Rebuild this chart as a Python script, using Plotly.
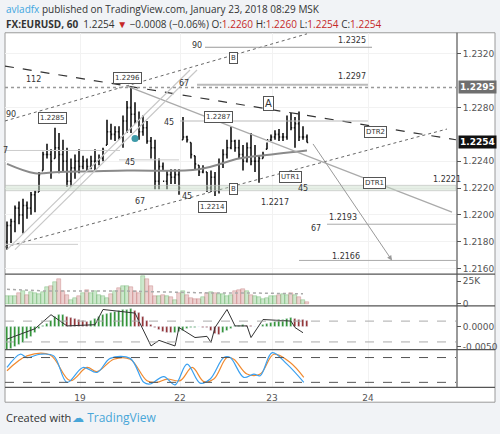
import plotly.graph_objects as go

# hourly EURUSD bars, index 0 = Jan 18 ~06:00
highs = [1.2195, 1.2197, 1.2207, 1.2210, 1.2212, 1.2210, 1.2217, 1.2218, 1.2232, 1.2247,
         1.2253, 1.2249, 1.2265, 1.2261, 1.2256, 1.2250, 1.2242, 1.2245, 1.2249, 1.2244,
         1.2242, 1.2244, 1.2249, 1.2245, 1.2250, 1.2271, 1.2268, 1.2266, 1.2266, 1.2274,
         1.2285, 1.2296, 1.2284, 1.2277, 1.2274, 1.2270, 1.2258, 1.2256, 1.2242, 1.2239,
         1.2233, 1.2234, 1.2234, 1.2234, 1.2273, 1.2259, 1.2254, 1.2244, 1.2237, 1.2237,
         1.2232, 1.2233, 1.2232, 1.2242, 1.2249, 1.2256, 1.2266, 1.2256, 1.2256, 1.2252,
         1.2254, 1.2261, 1.2252, 1.2244, 1.2247, 1.2254, 1.2260, 1.2263, 1.2264, 1.2261,
         1.2274, 1.2276, 1.2273, 1.2277, 1.2266, 1.2260]
lows = [1.2174, 1.2179, 1.2187, 1.2193, 1.2186, 1.2197, 1.2200, 1.2202, 1.2217, 1.2233,
        1.2242, 1.2227, 1.2242, 1.2231, 1.2232, 1.2221, 1.2221, 1.2227, 1.2231, 1.2234,
        1.2232, 1.2234, 1.2232, 1.2237, 1.2240, 1.2252, 1.2256, 1.2255, 1.2256, 1.2250,
        1.2261, 1.2261, 1.2268, 1.2256, 1.2259, 1.2253, 1.2242, 1.2219, 1.2219, 1.2233,
        1.2219, 1.2223, 1.2223, 1.2215, 1.2256, 1.2254, 1.2242, 1.2234, 1.2229, 1.2231,
        1.2217, 1.2217, 1.2214, 1.2216, 1.2235, 1.2242, 1.2249, 1.2247, 1.2242, 1.2233,
        1.2239, 1.2237, 1.2232, 1.2224, 1.2242, 1.2249, 1.2255, 1.2256, 1.2255, 1.2255,
        1.2256, 1.2263, 1.2250, 1.2255, 1.2256, 1.2254]
closes = [1.2192, 1.2195, 1.2205, 1.2200, 1.2207, 1.2205, 1.2215, 1.2217, 1.2230, 1.2245,
          1.2245, 1.2240, 1.2250, 1.2245, 1.2240, 1.2225, 1.2235, 1.2240, 1.2236, 1.2240,
          1.2236, 1.2240, 1.2240, 1.2242, 1.2248, 1.2262, 1.2260, 1.2262, 1.2258, 1.2270,
          1.2280, 1.2275, 1.2270, 1.2262, 1.2265, 1.2255, 1.2250, 1.2225, 1.2236, 1.2225,
          1.2230, 1.2228, 1.2230, 1.2220, 1.2258, 1.2256, 1.2245, 1.2238, 1.2232, 1.2235,
          1.2220, 1.2228, 1.2218, 1.2238, 1.2245, 1.2250, 1.2255, 1.2250, 1.2245, 1.2240,
          1.2250, 1.2240, 1.2240, 1.2242, 1.2245, 1.2256, 1.2258, 1.2260, 1.2258, 1.2258,
          1.2270, 1.2265, 1.2268, 1.2258, 1.2258, 1.2254]
opens = [1.2180] + closes[:-1]
opens = [min(max(o, l), h) for o, l, h in zip(opens, lows, highs)]
bars = list(range(len(closes)))

ma_x = [0, 7, 13, 30, 48, 58, 63, 75]
ma_y = [1.2238, 1.2231, 1.2232, 1.2233, 1.2234, 1.2242, 1.2244, 1.2248]

volume = [8, 9, 8, 12, 14, 10, 13, 12, 11, 13, 18, 20, 24, 27, 14, 10, 4, 6, 8, 12,
          15, 12, 14, 10, 8, 6, 11, 14, 17, 20, 20, 18, 14, 12, 30, 27, 20, 8, 8, 10,
          8, 7, 4, 12, 14, 10, 6, 5, 5, 7, 12, 13, 12, 11, 11, 9, 10, 14, 15, 16,
          14, 10, 8, 7, 5, 6, 8, 8, 10, 11, 10, 12, 10, 7, 4, 2]
vol_ma_x = [0, 10, 20, 30, 40, 50, 60, 70, 74]
vol_ma_y = [16, 14, 14, 14, 13, 12, 12, 11, 11]

macd_hist = [-6.5, -5.5, -5, -4.5, -4, -3, -2.5, -1.5, -0.5, 0.3, 0.8, 1.5, 2.5, 3,
             3, 2.5, 2.2, 2, 1.8, 1.5, 1.2, 1.5, 2, 2.5, 3, 3.2, 3.5, 3.8, 4, 4.2, 4.3, 4.4,
             4, 3.5, 2.5, 1.5, 0.5, -0.3, -0.8, -1.2, -1.5, -1.6, -1.5, -1.4,
             -1, -0.5, -0.3, -0.2, -0.1, -0.2, -0.3, -1, -1.8, -2, -1.5, -1, -0.5,
             0.2, 0.3, 0.4, 0.2, 0.1, 0, -0.1, 0.5, 0.8, 1, 1.3, 1.6, 1.8, 2, 2.2,
             2, 1.8, 1.6, 1.5]
macd_x = [0, 7, 11, 15, 22, 24, 32, 36, 38, 42, 43, 47, 50, 51, 52, 55, 57, 60, 61, 64, 71, 72, 74]
macd_y = [-3.1, -0.5, 3.0, 0.2, 0.5, 4.3, 3.4, -4.8, -3.4, -4.8, -0.2, -2.7, -2.4, -3.9,
          -0.2, 4.3, 0.2, 0.2, -2.7, 1.8, 1.4, -0.2, -1.5]

stk_x = [0, 3.3, 5, 8.3, 11.7, 15, 19, 22.5, 25.8, 30.8, 34.2, 35.8, 39.2, 42, 45, 48.3,
         50.8, 54.2, 55.8, 59.2, 61.7, 63.3, 66.3, 70, 74.2]
stk_k = [56, 88, 80, 88, 84, 20, 56, 44, 78, 78, 20, 16, 34, 14, 64, 18, 28, 80, 80, 32,
         40, 36, 92, 64, 20]
std_x = [0, 5, 10.8, 15.8, 20, 22.5, 26.7, 30.8, 35, 37.5, 40, 43.3, 46.3, 49.2, 51.7,
         55, 56.7, 60, 63.3, 66.7, 70.8, 74.2]
std_d = [48, 84, 86, 24, 56, 46, 76, 76, 24, 20, 28, 24, 56, 22, 28, 80, 76, 40, 40, 88, 68, 32]

date_pos = [18.25, 43.25, 66.25, 90.25]
date_labels = ["19", "22", "23", "24"]
price_ticks = [1.2160, 1.2180, 1.2200, 1.2220, 1.2240, 1.2280, 1.2320]

W, H = 500, 434
def px(x):
    return x / W
def py(y):
    return 1 - y / H

GRID = "#f2f2f2"
TXT = "#555555"
XR = [-0.5, 112.25]

fig = go.Figure()
fig.add_trace(go.Ohlc(x=bars, open=opens, high=highs, low=lows, close=closes,
                      increasing_line_color="#111", decreasing_line_color="#111",
                      line_width=1.6, tickwidth=0.3, xaxis="x", yaxis="y"))
fig.add_trace(go.Scatter(x=ma_x, y=ma_y, mode="lines", line=dict(color="#8a8a8a", width=2, shape="spline"),
                         xaxis="x", yaxis="y"))
fig.add_trace(go.Scatter(x=[32], y=[1.2257], mode="markers", marker=dict(color="#3d9aa8", size=7),
                         xaxis="x", yaxis="y"))

vcol = ["rgba(110,190,110,0.35)" if c >= o else "rgba(200,120,120,0.35)" for o, c in zip(opens, closes)]
vline = ["rgba(90,170,90,0.6)" if c >= o else "rgba(190,110,110,0.6)" for o, c in zip(opens, closes)]
fig.add_trace(go.Bar(x=bars, y=volume, marker=dict(color=vcol, line=dict(color=vline, width=0.6)),
                     width=0.8, xaxis="x2", yaxis="y2"))
fig.add_trace(go.Scatter(x=vol_ma_x, y=vol_ma_y, mode="lines", line=dict(color="#aaaaaa", width=1.5, dash="dot"),
                         xaxis="x2", yaxis="y2"))

hcol = []
for k, v in enumerate(macd_hist):
    prev = macd_hist[k - 1] if k else v - 1
    hcol.append("#1e8a1e" if v >= prev else "#8b1e1e")
fig.add_trace(go.Bar(x=bars, y=[v / 1000 for v in macd_hist], marker=dict(color=hcol), width=0.35,
                     xaxis="x3", yaxis="y3"))
fig.add_trace(go.Scatter(x=macd_x, y=[v / 1000 for v in macd_y], mode="lines", line=dict(color="#333", width=1),
                         xaxis="x3", yaxis="y3"))

fig.add_trace(go.Scatter(x=std_x, y=std_d, mode="lines", line=dict(color="#f08a30", width=1.2, shape="spline"),
                         xaxis="x4", yaxis="y4"))
fig.add_trace(go.Scatter(x=stk_x, y=stk_k, mode="lines", line=dict(color="#3aa0f0", width=1.2, shape="spline"),
                         xaxis="x4", yaxis="y4"))

dom_x = [px(5), px(456)]
ax_common = dict(range=XR, showgrid=True, gridcolor=GRID, tickvals=date_pos, zeroline=False,
                 showline=False, domain=dom_x, fixedrange=True)
shapes = []
annotations = []

# chart frame
shapes.append(dict(type="rect", xref="paper", yref="paper", x0=px(5), x1=px(495), y0=py(405), y1=py(33),
                   fillcolor="white", line=dict(color="#9a9a9a", width=1), layer="below"))
for yy in [276, 308, 352, 390]:
    shapes.append(dict(type="line", xref="paper", yref="paper", x0=px(5), x1=px(495), y0=py(yy), y1=py(yy),
                       line=dict(color="#555", width=1.2)))
shapes.append(dict(type="line", xref="paper", yref="paper", x0=px(457), x1=px(457), y0=py(390), y1=py(33),
                   line=dict(color="#555", width=1.2)))

def seg(x0, y0, x1, y1, color="#aaaaaa", width=1, dash="solid"):
    shapes.append(dict(type="line", xref="x", yref="y", x0=x0, y0=y0, x1=x1, y1=y1,
                       line=dict(color=color, width=width, dash=dash)))

seg(-0.5, 1.2311, 112.25, 1.2256, "#333", 1.2, "dash")
seg(-0.5, 1.2270, 75, 1.2335, "#666", 1, "dot")
seg(-0.5, 1.2176, 110, 1.2264, "#666", 1, "dot")
seg(30, 1.2296, 111.25, 1.2202, "#aaaaaa", 1.2)
seg(0, 1.2174, 45.75, 1.2308, "#c8c8c8", 1.2)
seg(2, 1.2174, 47.5, 1.2308, "#c8c8c8", 1.2)
seg(49.5, 1.2325, 91.25, 1.2325, "#999", 1)
seg(47.5, 1.2297, 90.25, 1.2297, "#bbbbbb", 2)
seg(-0.5, 1.2295, 112.25, 1.2295, "#999", 1.6, "dot")
seg(43.25, 1.2270, 90.25, 1.2270, "#bbbbbb", 1.2)
seg(-0.5, 1.2248, 28.25, 1.2248, "#cccccc", 1)
seg(28, 1.2241, 43, 1.2241, "#cccccc", 1)
seg(80, 1.2193, 112.25, 1.2193, "#aaaaaa", 1)
seg(73, 1.2166, 112.25, 1.2166, "#aaaaaa", 1)
seg(-0.5, 1.2178, 17.75, 1.2178, "#cccccc", 1)
shapes.append(dict(type="rect", xref="x", yref="y", x0=-0.5, x1=112.25, y0=1.2218, y1=1.2222,
                   fillcolor="rgba(200,220,200,0.45)", line=dict(color="#bbbbbb", width=0.6)))

annotations.append(dict(x=96.25, y=1.2166, ax=76.25, ay=1.2254, xref="x", yref="y", axref="x", ayref="y",
                        text="", showarrow=True, arrowhead=2, arrowsize=1, arrowwidth=1, arrowcolor="#999"))

def lab(x, y, t, box=False, size=8):
    annotations.append(dict(x=x, y=y, xref="x", yref="y", text=t, showarrow=False, yanchor="middle",
                            font=dict(size=size, color="#333", family="DejaVu Sans"),
                            bgcolor="white" if box else None, bordercolor="#555" if box else None,
                            borderwidth=1 if box else 0, borderpad=1))

for x, y, t in [(6.5, 1.2301, "112"), (1, 1.2275, "90"), (-0.3, 1.2248, "7"), (44.25, 1.2298, "67"),
                (40.5, 1.2269, "45"), (30.75, 1.2239, "45"), (33.25, 1.2210, "67"), (45, 1.2214, "45"),
                (74, 1.2220, "45"), (77.25, 1.2190, "67"), (47.5, 1.2326, "90"), (86.25, 1.2330, "1.2325"),
                (86.25, 1.2303, "1.2297"), (67, 1.2209, "1.2217"), (110, 1.2226, "1.2221"),
                (84, 1.2198, "1.2193"), (84.75, 1.2169, "1.2166")]:
    lab(x, y, t)
for x, y, t in [(30, 1.2302, "1.2296"), (11.25, 1.2272, "1.2285"), (52.75, 1.2273, "1.2287"),
                (51.25, 1.2206, "1.2214"), (56.5, 1.2317, "B"), (56.5, 1.2219, "B"),
                (92, 1.2262, "DTR2"), (70.75, 1.2228, "UTR1"), (91.75, 1.2224, "DTR1")]:
    lab(x, y, t, box=True, size=7)
lab(65.25, 1.2283, "A", box=True, size=10)

# price markers on the axis
for val, bg in [(1.2295, "#6f6f6f"), (1.2254, "#111111")]:
    annotations.append(dict(x=px(458), y=val, xref="paper", yref="y", xanchor="left", yanchor="middle",
                            text="<b>%.4f</b>" % val, showarrow=False, bgcolor=bg,
                            font=dict(color="white", size=9, family="DejaVu Sans"), borderpad=1))

# header / footer
annotations += [
    dict(x=px(4), y=py(9), xref="paper", yref="paper", xanchor="left", yanchor="middle", showarrow=False,
         text="<span style='color:#3ea6e0'>avladfx</span> published on TradingView.com, January 23, 2018 08:29 MSK",
         font=dict(size=10, color="#333", family="Open Sans")),
    dict(x=px(4), y=py(24), xref="paper", yref="paper", xanchor="left", yanchor="middle", showarrow=False,
         text="<b>FX:EURUSD, 60</b>  1.2254 <span style='color:#c62828'>▼</span> −0.0008 (−0.06%) "
              "O:<span style='color:#c62828'>1.2260</span> H:<span style='color:#c62828'>1.2260</span> "
              "L:<span style='color:#c62828'>1.2254</span> C:<span style='color:#c62828'>1.2254</span>",
         font=dict(size=10, color="#333", family="Open Sans")),
    dict(x=px(4), y=py(420), xref="paper", yref="paper", xanchor="left", yanchor="middle", showarrow=False,
         text="Created with", font=dict(size=11, color="#333", family="Open Sans")),
    dict(x=px(70), y=py(420), xref="paper", yref="paper", xanchor="left", yanchor="middle", showarrow=False,
         text="<span style='color:#48a6d8'>☁</span> <span style='color:#48a6d8'>TradingView</span>",
         font=dict(size=12, color="#48a6d8", family="Open Sans")),
]

for lvl in [0.0014, -0.0038]:
    shapes.append(dict(type="line", xref="x3", yref="y3", x0=XR[0], x1=XR[1], y0=lvl, y1=lvl,
                       line=dict(color="#aaa", width=1, dash="dash")))
for lvl in [80, 20]:
    shapes.append(dict(type="line", xref="x4", yref="y4", x0=XR[0], x1=XR[1], y0=lvl, y1=lvl,
                       line=dict(color="#555", width=1, dash="dash")))

yax = dict(side="right", showgrid=True, gridcolor=GRID, zeroline=False, ticks="outside", ticklen=4,
           tickcolor="#555", tickfont=dict(size=9, color=TXT, family="DejaVu Sans"), fixedrange=True)
fig.update_layout(
    width=W, height=H, margin=dict(l=0, r=0, t=0, b=0), showlegend=False,
    paper_bgcolor="#f1f3f6", plot_bgcolor="rgba(0,0,0,0)",
    xaxis=dict(ax_common, anchor="y", showticklabels=False, rangeslider=dict(visible=False)),
    xaxis2=dict(ax_common, anchor="y2", matches="x", showticklabels=False),
    xaxis3=dict(ax_common, anchor="y3", matches="x", showticklabels=False),
    xaxis4=dict(ax_common, anchor="y4", matches="x", ticktext=date_labels, ticks="",
                ticklabelstandoff=4, tickfont=dict(size=9, color=TXT, family="DejaVu Sans")),
    yaxis=dict(yax, domain=[py(276), py(33)], range=[1.21558, 1.23358], tickvals=price_ticks,
               tickformat=".4f"),
    yaxis2=dict(yax, domain=[py(308), py(276)], range=[-2.2, 32.6], tickvals=[0, 25],
                ticktext=["0", "25K"], showgrid=False),
    yaxis3=dict(yax, domain=[py(352), py(308)], range=[-0.0057, 0.0052], tickvals=[0, -0.005],
                ticktext=["0.0000", "-0.0050"], showgrid=False),
    yaxis4=dict(yax, domain=[py(390), py(352)], range=[8, 99.3], showticklabels=False, ticks="",
                showgrid=False),
    shapes=shapes, annotations=annotations, bargap=0,
)
fig.write_html("out.html", config={"displayModeBar": False},
               post_script="document.body.style.margin='0';")
